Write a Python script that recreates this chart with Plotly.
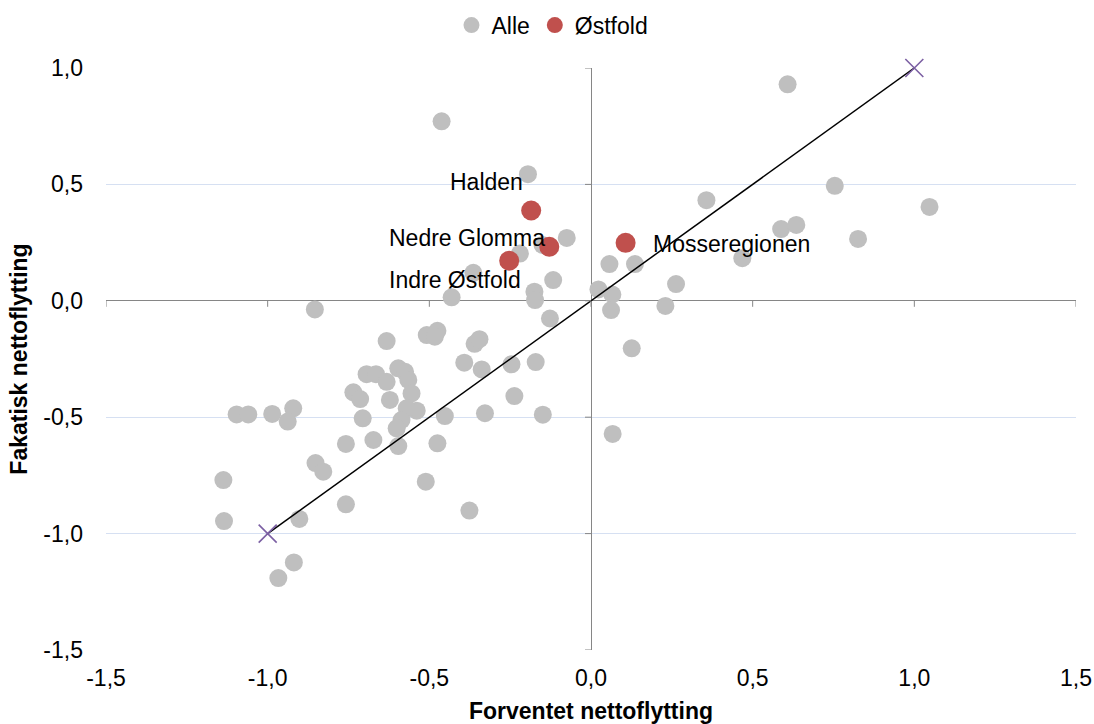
import plotly.graph_objects as go

# ---- data ----
alle_x = [0.608, 0.754, 1.047, 0.357, 0.588, 0.635, 0.826, 0.468, 0.263, 0.057,
          0.136, 0.023, 0.066, 0.230, 0.062, 0.126, 0.067, -0.075,
          -0.462, -0.195, -0.220, -0.150, -0.364, -0.117, -0.431, -0.175, -0.173, -0.127, -0.854,
          -0.632, -0.508, -0.475, -0.483, -0.360, -0.345, -0.392, -0.338, -0.246, -0.171,
          -0.237, -0.328, -0.149, -0.452, -0.475, -0.511, -0.376,
          -0.694, -0.665, -0.632, -0.596, -0.575, -0.565, -0.555, -0.539, -0.570, -0.586,
          -0.601, -0.596, -0.622, -0.735, -0.714, -0.706, -0.673, -0.758, -0.758,
          -1.096, -1.060, -0.986, -0.921, -0.938, -1.137, -1.135, -0.852, -0.828,
          -0.902, -0.919, -0.967]
alle_y = [0.930, 0.494, 0.403, 0.432, 0.308, 0.326, 0.266, 0.183, 0.072, 0.158,
          0.158, 0.049, 0.027, -0.022, -0.040, -0.204, -0.572, 0.270,
          0.771, 0.544, 0.203, 0.240, 0.120, 0.089, 0.015, 0.039, 0.003, -0.076, -0.037,
          -0.173, -0.147, -0.129, -0.154, -0.185, -0.165, -0.266, -0.295, -0.273, -0.263,
          -0.409, -0.483, -0.489, -0.495, -0.612, -0.777, -0.901,
          -0.315, -0.315, -0.348, -0.290, -0.305, -0.340, -0.398, -0.472, -0.462, -0.512,
          -0.548, -0.624, -0.426, -0.393, -0.422, -0.505, -0.598, -0.615, -0.874,
          -0.488, -0.488, -0.486, -0.462, -0.519, -0.770, -0.946, -0.697, -0.734,
          -0.937, -1.124, -1.191]

ostfold_names = ["Halden", "Nedre Glomma", "Indre Østfold", "Mosseregionen"]
ostfold_x = [-0.185, -0.129, -0.253, 0.107]
ostfold_y = [0.388, 0.232, 0.172, 0.249]

diag_x = [-1.0, 1.0]
diag_y = [-1.0, 1.0]

x_ticks = [-1.5, -1.0, -0.5, 0.0, 0.5, 1.0, 1.5]
y_ticks = [-1.5, -1.0, -0.5, 0.0, 0.5, 1.0]

def fmt(v):
    return f"{v:.1f}".replace(".", ",")

FONT = "Liberation Sans, Arial, sans-serif"
FS = 23

fig = go.Figure()
fig.add_trace(go.Scatter(x=alle_x, y=alle_y, mode="markers", name="Alle",
                         marker=dict(color="#bfbfbf", size=18)))
fig.add_trace(go.Scatter(x=ostfold_x, y=ostfold_y, mode="markers", name="Østfold",
                         marker=dict(color="#c0504d", size=20)))
fig.add_trace(go.Scatter(x=diag_x, y=diag_y, mode="lines+markers", showlegend=False,
                         cliponaxis=False,
                         line=dict(color="black", width=1.5),
                         marker=dict(symbol="x-thin", size=18,
                                     line=dict(color="#7b5fa3", width=1.6))))

# label offsets (pixels) for data labels
offsets = {
    "Halden": ("right", -6, 28),
    "Nedre Glomma": ("right", -2, 9),
    "Indre Østfold": ("right", 14, -19),
    "Mosseregionen": ("left", 25, -1),
}
for n, xv, yv in zip(ostfold_names, ostfold_x, ostfold_y):
    anc, dx, dy = offsets[n]
    fig.add_annotation(x=xv, y=yv, text=n, showarrow=False, xanchor=anc,
                       yanchor="middle", xshift=dx, yshift=dy,
                       font=dict(family=FONT, size=FS, color="black"))

# tick marks on the crossing axes
for t in x_ticks:
    fig.add_shape(type="line", xref="x", yref="y", x0=t, x1=t,
                  ysizemode="pixel", yanchor=0, y0=0, y1=-6,
                  line=dict(color="#868686", width=1))
for t in y_ticks:
    fig.add_shape(type="line", xref="x", yref="y", y0=t, y1=t,
                  xsizemode="pixel", xanchor=0, x0=0, x1=-6,
                  line=dict(color="#868686", width=1))

fig.update_layout(
    width=1094, height=724,
    paper_bgcolor="white", plot_bgcolor="white",
    margin=dict(l=106, r=18, t=68, b=74, autoexpand=False),
    font=dict(family=FONT, size=FS, color="black"),
    showlegend=True,
    legend=dict(orientation="h", xref="container", yref="container",
                x=0.505, xanchor="center", y=0.995, yanchor="top",
                font=dict(size=FS), itemwidth=30, tracegroupgap=0,
                bgcolor="rgba(0,0,0,0)"),
    xaxis=dict(range=[-1.5, 1.5], tickvals=x_ticks, ticktext=[fmt(v) for v in x_ticks],
               showgrid=False, zeroline=True, zerolinecolor="#868686", zerolinewidth=1,
               showline=False, ticks="", ticklabelstandoff=12,
               title=dict(text="<b>Forventet nettoflytting</b>", standoff=12,
                          font=dict(size=FS))),
    yaxis=dict(range=[-1.5, 1.0], tickvals=y_ticks, ticktext=[fmt(v) for v in y_ticks],
               showgrid=True, gridcolor="#d6e0f2", gridwidth=1.3,
               zeroline=True, zerolinecolor="#868686", zerolinewidth=1,
               showline=False, ticks="", ticklabelstandoff=22,
               title=dict(text="<b>Fakatisk nettoflytting</b>", standoff=9,
                          font=dict(size=FS))),
)

fig.write_html("out.html", config={"displayModeBar": False},
               post_script="document.body.style.margin='0';")
